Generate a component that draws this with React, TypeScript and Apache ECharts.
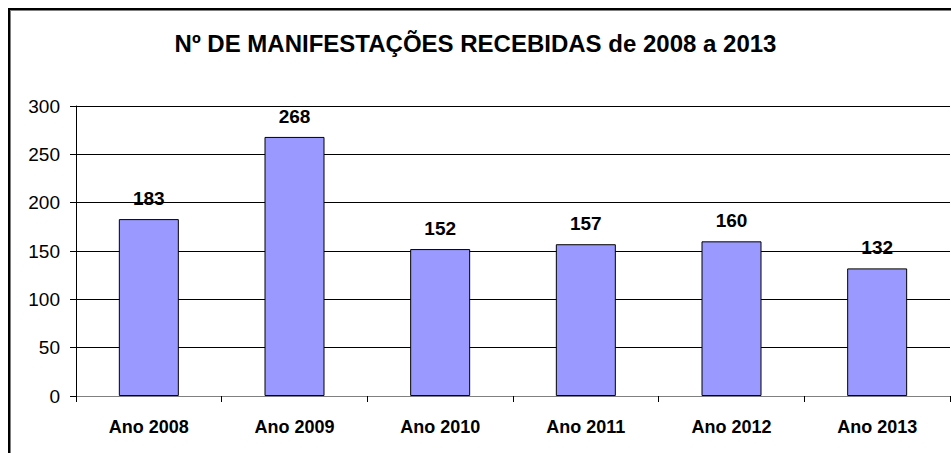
import React, { useEffect, useRef } from "react";
import * as echarts from "echarts";

const categories = ["Ano 2008", "Ano 2009", "Ano 2010", "Ano 2011", "Ano 2012", "Ano 2013"];
const values = [183, 268, 152, 157, 160, 132];
const titleText = "Nº DE MANIFESTAÇÕES RECEBIDAS de 2008 a 2013";

export default function App() {
  const ref = useRef<HTMLDivElement>(null);
  useEffect(() => {
    if (!ref.current) return;
    const chart = echarts.init(ref.current, null, { renderer: "svg" });
    const font = "'Liberation Sans', Arial, sans-serif";
    chart.setOption({
      animation: false,
      backgroundColor: "#ffffff",
      textStyle: { fontFamily: font },
      title: {
        text: titleText,
        left: "center",
        top: 26,
        textStyle: { fontSize: 24, fontWeight: "bold", color: "#000", fontFamily: font },
      },
      graphic: [
        {
          type: "rect",
          shape: { x: 9, y: 9, width: 1000, height: 1000 },
          style: { fill: "none", stroke: "#000", lineWidth: 2, shadowColor: "rgba(0,0,0,0.5)", shadowOffsetX: 1, shadowOffsetY: 1, shadowBlur: 0 },
          silent: true,
        },
      ],
      grid: { left: 76, top: 106, right: 1, bottom: 57 },
      xAxis: {
        type: "category",
        data: categories,
        axisLine: { lineStyle: { color: "#808080", width: 1 } },
        axisTick: { show: true, length: 6, lineStyle: { color: "#000" } },
        axisLabel: { fontSize: 18, fontWeight: "bold", color: "#000", margin: 22, fontFamily: font },
      },
      yAxis: {
        type: "value",
        min: 0,
        max: 300,
        interval: 50,
        axisLine: { show: true, lineStyle: { color: "#000", width: 1 } },
        axisTick: { show: true, length: 6, lineStyle: { color: "#000" } },
        axisLabel: { fontSize: 19, color: "#000", margin: 16, fontFamily: font },
        splitLine: { show: true, lineStyle: { color: "#000", width: 1 } },
      },
      series: [
        {
          type: "bar",
          data: values,
          barWidth: 60,
          itemStyle: { color: "#9999FF", borderColor: "#000", borderWidth: 1 },
          label: {
            show: true,
            position: "top",
            distance: 11,
            fontSize: 19,
            fontWeight: "bold",
            color: "#000",
            fontFamily: font,
          },
        },
      ],
    });
    return () => chart.dispose();
  }, []);
  return (
    <div
      ref={ref}
      style={{ position: "absolute", left: 0, top: 0, width: 951, height: 453, overflow: "hidden" }}
    />
  );
}
